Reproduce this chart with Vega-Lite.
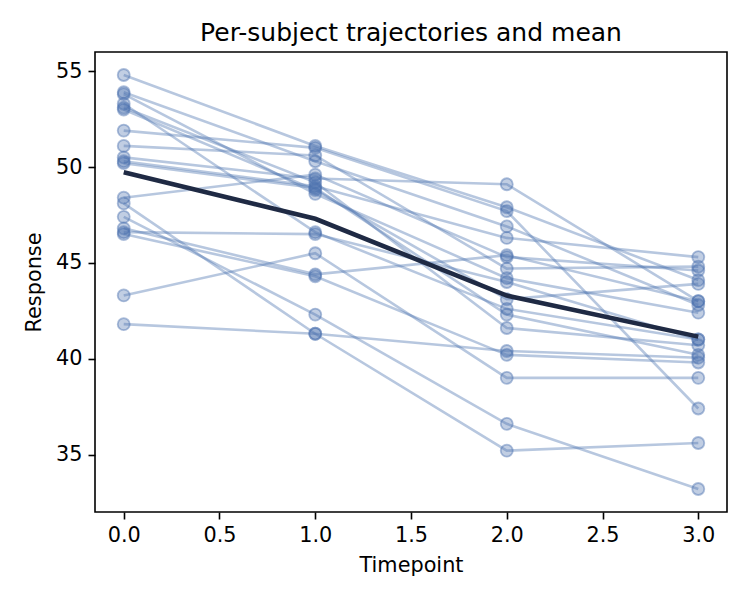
{
  "$schema": "https://vega.github.io/schema/vega-lite/v6.json",
  "autosize": {"type": "none"},
  "width": 632,
  "height": 460,
  "padding": {"left": 95, "top": 52, "right": 23, "bottom": 88},
  "background": "white",
  "config": {
    "font": "DejaVu Sans",
    "view": {"stroke": "black", "strokeWidth": 1.6},
    "axis": {
      "grid": false,
      "domain": false,
      "tickColor": "black",
      "tickSize": 7,
      "tickWidth": 1.6,
      "labelFont": "DejaVu Sans",
      "labelFontSize": 20.8,
      "labelColor": "black",
      "labelPadding": 6,
      "titleFont": "DejaVu Sans",
      "titleFontSize": 20.8,
      "titleFontWeight": "normal",
      "titleColor": "black"
    },
    "title": {"font": "DejaVu Sans", "fontSize": 25, "fontWeight": "normal", "color": "black", "offset": 6}
  },
  "title": {"text": "Per-subject trajectories and mean", "anchor": "middle"},
  "data": {
    "values": [
      {"subject": "S01", "t": 0, "y": 54.8}, {"subject": "S01", "t": 1, "y": 51.1}, {"subject": "S01", "t": 2, "y": 47.9}, {"subject": "S01", "t": 3, "y": 44.1},
      {"subject": "S02", "t": 0, "y": 53.9}, {"subject": "S02", "t": 1, "y": 50.3}, {"subject": "S02", "t": 2, "y": 46.9}, {"subject": "S02", "t": 3, "y": 42.8},
      {"subject": "S03", "t": 0, "y": 53.8}, {"subject": "S03", "t": 1, "y": 48.6}, {"subject": "S03", "t": 2, "y": 44.2}, {"subject": "S03", "t": 3, "y": 42.4},
      {"subject": "S04", "t": 0, "y": 53.3}, {"subject": "S04", "t": 1, "y": 46.6}, {"subject": "S04", "t": 2, "y": 42.6}, {"subject": "S04", "t": 3, "y": 41.0},
      {"subject": "S05", "t": 0, "y": 53.1}, {"subject": "S05", "t": 1, "y": 49.2}, {"subject": "S05", "t": 2, "y": 41.6}, {"subject": "S05", "t": 3, "y": 40.7},
      {"subject": "S06", "t": 0, "y": 53.0}, {"subject": "S06", "t": 1, "y": 48.8}, {"subject": "S06", "t": 2, "y": 43.1}, {"subject": "S06", "t": 3, "y": 43.9},
      {"subject": "S07", "t": 0, "y": 51.9}, {"subject": "S07", "t": 1, "y": 51.0}, {"subject": "S07", "t": 2, "y": 47.7}, {"subject": "S07", "t": 3, "y": 37.4},
      {"subject": "S08", "t": 0, "y": 51.1}, {"subject": "S08", "t": 1, "y": 50.6}, {"subject": "S08", "t": 2, "y": 44.7}, {"subject": "S08", "t": 3, "y": 44.8},
      {"subject": "S09", "t": 0, "y": 50.5}, {"subject": "S09", "t": 1, "y": 49.4}, {"subject": "S09", "t": 2, "y": 49.1}, {"subject": "S09", "t": 3, "y": 43.0},
      {"subject": "S10", "t": 0, "y": 50.3}, {"subject": "S10", "t": 1, "y": 49.0}, {"subject": "S10", "t": 2, "y": 46.3}, {"subject": "S10", "t": 3, "y": 45.3},
      {"subject": "S11", "t": 0, "y": 50.2}, {"subject": "S11", "t": 1, "y": 48.9}, {"subject": "S11", "t": 2, "y": 42.3}, {"subject": "S11", "t": 3, "y": 40.2},
      {"subject": "S12", "t": 0, "y": 48.4}, {"subject": "S12", "t": 1, "y": 49.6}, {"subject": "S12", "t": 2, "y": 45.3}, {"subject": "S12", "t": 3, "y": 44.6},
      {"subject": "S13", "t": 0, "y": 48.1}, {"subject": "S13", "t": 1, "y": 41.3}, {"subject": "S13", "t": 2, "y": 35.2}, {"subject": "S13", "t": 3, "y": 35.6},
      {"subject": "S14", "t": 0, "y": 47.4}, {"subject": "S14", "t": 1, "y": 42.3}, {"subject": "S14", "t": 2, "y": 36.6}, {"subject": "S14", "t": 3, "y": 33.2},
      {"subject": "S15", "t": 0, "y": 46.8}, {"subject": "S15", "t": 1, "y": 44.4}, {"subject": "S15", "t": 2, "y": 45.4}, {"subject": "S15", "t": 3, "y": 43.0},
      {"subject": "S16", "t": 0, "y": 46.6}, {"subject": "S16", "t": 1, "y": 46.5}, {"subject": "S16", "t": 2, "y": 44.0}, {"subject": "S16", "t": 3, "y": 41.0},
      {"subject": "S17", "t": 0, "y": 46.5}, {"subject": "S17", "t": 1, "y": 44.3}, {"subject": "S17", "t": 2, "y": 40.2}, {"subject": "S17", "t": 3, "y": 39.8},
      {"subject": "S18", "t": 0, "y": 43.3}, {"subject": "S18", "t": 1, "y": 45.5}, {"subject": "S18", "t": 2, "y": 39.0}, {"subject": "S18", "t": 3, "y": 39.0},
      {"subject": "S19", "t": 0, "y": 41.8}, {"subject": "S19", "t": 1, "y": 41.3}, {"subject": "S19", "t": 2, "y": 40.4}, {"subject": "S19", "t": 3, "y": 40.05}
    ]
  },
  "encoding": {
    "x": {
      "field": "t",
      "type": "quantitative",
      "title": "Timepoint",
      "scale": {"domain": [-0.15, 3.15], "nice": false, "zero": false},
      "axis": {"values": [0, 0.5, 1, 1.5, 2, 2.5, 3], "format": ".1f", "titlePadding": 11}
    },
    "y": {
      "field": "y",
      "type": "quantitative",
      "title": "Response",
      "scale": {"domain": [32.0, 56.0], "nice": false, "zero": false},
      "axis": {"values": [35, 40, 45, 50, 55], "titlePadding": 11}
    }
  },
  "layer": [
    {
      "mark": {"type": "line", "color": "#4c72b0", "strokeWidth": 2.6, "opacity": 0.4},
      "encoding": {"detail": {"field": "subject"}}
    },
    {
      "mark": {"type": "point", "shape": "circle", "filled": true, "size": 145, "color": "#4c72b0", "fillOpacity": 0.35, "strokeOpacity": 0.45, "strokeWidth": 1.8, "stroke": "#4c72b0"}
    },
    {
      "mark": {"type": "line", "color": "#1f2a44", "strokeWidth": 4.6},
      "encoding": {"y": {"aggregate": "mean", "field": "y", "type": "quantitative"}}
    }
  ]
}
